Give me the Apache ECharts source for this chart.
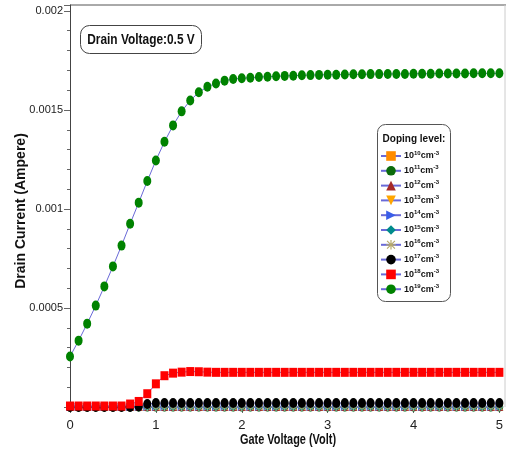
<!DOCTYPE html>
<html>
<head>
<meta charset="utf-8">
<script src="https://cdn.jsdelivr.net/npm/echarts@6/dist/echarts.min.js"></script>
<style>
  html, body { margin: 0; padding: 0; background: #fff; }
  #chart { width: 506px; height: 455px; }
</style>
</head>
<body>
<div id="chart"></div>
<script>
// Gate voltage sweep (V)
const gateVoltage = [0,0.1,0.2,0.3,0.4,0.5,0.6,0.7,0.8,0.9,1.0,1.1,1.2,1.3,1.4,1.5,1.6,1.7,1.8,1.9,2.0,
  2.1,2.2,2.3,2.4,2.5,2.6,2.7,2.8,2.9,3.0,3.1,3.2,3.3,3.4,3.5,3.6,3.7,3.8,3.9,4.0,
  4.1,4.2,4.3,4.4,4.5,4.6,4.7,4.8,4.9,5.0];

// Drain current (A) for each doping level
const id1e10 = [0,0,0,0,0,0,0,0,0,0,0,0,0,0,0,0,0,0,0,0,0,0,0,0,0,0,0,0,0,0,0,0,0,0,0,0,0,0,0,0,0,0,0,0,0,0,0,0,0,0,0];
const id1e11 = [0,0,0,0,0,0,0,0,0,0,0,0,0,0,0,0,0,0,0,0,0,0,0,0,0,0,0,0,0,0,0,0,0,0,0,0,0,0,0,0,0,0,0,0,0,0,0,0,0,0,0];
const id1e12 = [0,0,0,0,0,0,0,0,0,0,0,0,0,0,0,0,0,0,0,0,0,0,0,0,0,0,0,0,0,0,0,0,0,0,0,0,0,0,0,0,0,0,0,0,0,0,0,0,0,0,0];
const id1e13 = [0,0,0,0,0,0,0,0,0,0,0,0,0,0,0,0,0,0,0,0,0,0,0,0,0,0,0,0,0,0,0,0,0,0,0,0,0,0,0,0,0,0,0,0,0,0,0,0,0,0,0];
const id1e14 = [0,0,0,0,0,0,0,0,0,0,0,0,0,0,0,0,0,0,0,0,0,0,0,0,0,0,0,0,0,0,0,0,0,0,0,0,0,0,0,0,0,0,0,0,0,0,0,0,0,0,0];
const id1e15 = [0,0,0,0,0,0,0,0,0,0,0,0,0,0,0,0,0,0,0,0,0,0,0,0,0,0,0,0,0,0,0,0,0,0,0,0,0,0,0,0,0,0,0,0,0,0,0,0,0,0,0];
const id1e16 = [0,0,0,0,0,0,0,0,0,0,0,0,0,0,0,0,0,0,0,0,0,0,0,0,0,0,0,0,0,0,0,0,0,0,0,0,0,0,0,0,0,0,0,0,0,0,0,0,0,0,0];
const id1e17 = [0,0,0,0,0,0,0,0,0.0000025,0.000015,0.00002,0.00002,0.00002,0.00002,0.00002,0.00002,0.00002,0.00002,0.00002,0.00002,0.00002,
  0.00002,0.00002,0.00002,0.00002,0.00002,0.00002,0.00002,0.00002,0.00002,0.00002,0.00002,0.00002,0.00002,0.00002,0.00002,0.00002,0.00002,0.00002,0.00002,0.00002,
  0.00002,0.00002,0.00002,0.00002,0.00002,0.00002,0.00002,0.00002,0.00002,0.00002];
const id1e18 = [0.000005,0.000005,0.000005,0.000005,0.000005,0.000005,0.000005,0.000015,0.000028,0.000067,0.000117,0.000158,0.000171,0.000176,0.000179,0.000178,0.000176,0.000175,0.000175,0.000175,0.000175,
  0.000175,0.000175,0.000175,0.000175,0.000175,0.000175,0.000175,0.000175,0.000175,0.000175,0.000175,0.000175,0.000175,0.000175,0.000175,0.000175,0.000175,0.000175,0.000175,0.000175,
  0.000175,0.000175,0.000175,0.000175,0.000175,0.000175,0.000175,0.000175,0.000175,0.000175];
const id1e19 = [0.000255,0.000335,0.000421,0.000512,0.000609,0.000710,0.000815,0.000925,0.001032,0.001141,0.001245,0.001339,0.001422,0.001493,0.001548,0.001589,0.001617,0.001634,0.001648,0.001656,0.001660,
  0.001663,0.001666,0.001668,0.001670,0.001672,0.001673,0.001675,0.001676,0.001677,0.001678,0.001678,0.001679,0.001680,0.001680,0.001681,0.001681,0.001682,0.001682,0.001682,0.001683,
  0.001683,0.001683,0.001684,0.001684,0.001684,0.001684,0.001685,0.001685,0.001685,0.001685];

// Doping exponents (cm^-3) in drawing order
const dopingExp = ['10','11','12','13','14','15','16','17','18','19'];
const currents = [id1e10, id1e11, id1e12, id1e13, id1e14, id1e15, id1e16, id1e17, id1e18, id1e19];

const asteriskPath = 'path://M4.4,0h1.2v10h-1.2z M0,4.4h10v1.2h-10z M1.3,0.5L9.5,8.7L8.7,9.5L0.5,1.3z M8.7,0.5L9.5,1.3L1.3,9.5L0.5,8.7z';

const markerStyles = [
  { symbol: 'rect',      color: '#ff8c00', size: [7, 8],  rotate: 0 },
  { symbol: 'circle',    color: '#0b6b0b', size: [7, 9],  rotate: 0 },
  { symbol: 'triangle',  color: '#a52a2a', size: [8, 8],  rotate: 0 },
  { symbol: 'triangle',  color: '#ffa500', size: [8, 8],  rotate: 180 },
  { symbol: 'triangle',  color: '#3a5ee8', size: [8, 8],  rotate: -90 },
  { symbol: 'diamond',   color: '#008b8b', size: [8, 9],  rotate: 0 },
  { symbol: asteriskPath,color: '#b5a869', size: [8, 8],  rotate: 0 },
  { symbol: 'circle',    color: '#000000', size: [8, 10], rotate: 0 },
  { symbol: 'rect',      color: '#ff0000', size: [8, 9],  rotate: 0 },
  { symbol: 'circle',    color: '#008200', size: [8, 10], rotate: 0 }
];

const lineColor = '#6a6ad8';
const sans = "'Liberation Sans', Arial, sans-serif";

const series = dopingExp.map((e, i) => ({
  name: '1e' + e,
  type: 'line',
  data: gateVoltage.map((v, k) => [v, currents[i][k]]),
  symbol: markerStyles[i].symbol,
  symbolSize: markerStyles[i].size,
  symbolRotate: markerStyles[i].rotate,
  showAllSymbol: true,
  animation: false,
  lineStyle: { color: lineColor, width: 1 },
  itemStyle: { color: markerStyles[i].color, borderWidth: 0 },
  emphasis: { disabled: true },
  z: 2 + i
}));

const chart = echarts.init(document.getElementById('chart'), null, { renderer: 'canvas' });
chart.setOption({
  backgroundColor: '#fff',
  animation: false,
  grid: { left: 70, right: 3, top: 5, bottom: 48, containLabel: false },
  xAxis: {
    type: 'value', min: 0, max: 5, interval: 1,
    axisLine: { show: true, lineStyle: { color: '#444', width: 1 } },
    axisTick: { show: true, length: 6, lineStyle: { color: '#666' } },
    minorTick: { show: true, splitNumber: 5, length: 3, lineStyle: { color: '#666' } },
    splitLine: { show: false },
    axisLabel: { color: '#222', fontFamily: sans, fontSize: 13, margin: 12 }
  },
  yAxis: {
    type: 'value', min: 0, max: 0.00203, interval: 0.0005,
    axisLine: { show: true, lineStyle: { color: '#444', width: 1 } },
    axisTick: { show: true, length: 6, lineStyle: { color: '#666' } },
    minorTick: { show: true, splitNumber: 5, length: 3, lineStyle: { color: '#666' } },
    splitLine: { show: false },
    axisLabel: {
      color: '#222', fontFamily: sans, fontSize: 11, margin: 7,
      showMinLabel: false, showMaxLabel: false,
      formatter: v => String(+v.toFixed(6))
    }
  },
  legend: {
    orient: 'vertical',
    left: 380, top: 150,
    padding: 0,
    itemWidth: 20, itemHeight: 12, itemGap: 4.0,
    selectedMode: false,
    formatter: name => '{b|10}{s|' + name.slice(2) + '}{b|cm}{s|-3}',
    textStyle: {
      padding: [0, 0, 0, -2],
      rich: {
        b: { fontFamily: sans, fontWeight: 'bold', fontSize: 9, color: '#111', lineHeight: 12, verticalAlign: 'middle' },
        s: { fontFamily: sans, fontWeight: 'bold', fontSize: 6, color: '#111', lineHeight: 12, verticalAlign: 'top' }
      }
    },
    data: series.map(s => s.name)
  },
  graphic: [
    // frame lines on top and right
    { type: 'line', shape: { x1: 70, y1: 5, x2: 506, y2: 5 }, style: { stroke: '#555', lineWidth: 1 }, silent: true },
    { type: 'line', shape: { x1: 505, y1: 5, x2: 505, y2: 407 }, style: { stroke: '#ccc', lineWidth: 1 }, silent: true },
    // drain voltage note
    { type: 'rect', shape: { x: 80.5, y: 25.5, width: 121, height: 28, r: 9 }, style: { fill: '#fff', stroke: '#444', lineWidth: 1 }, z: 10 },
    { type: 'text', x: 141, y: 40, z: 11, scaleX: 0.85,
      style: { text: 'Drain Voltage:0.5 V', font: 'bold 14px ' + sans, fill: '#111', align: 'center', verticalAlign: 'middle' } },
    // legend frame and heading
    { type: 'rect', shape: { x: 377.5, y: 124.5, width: 73, height: 177, r: 8 }, style: { fill: 'rgba(255,255,255,0)', stroke: '#555', lineWidth: 1 }, z: 10 },
    { type: 'text', x: 414, y: 139, z: 11,
      style: { text: 'Doping level:', font: 'bold 10px ' + sans, fill: '#111', align: 'center', verticalAlign: 'middle' } },
    // axis titles
    { type: 'text', x: 288, y: 440, z: 11, scaleX: 0.78,
      style: { text: 'Gate Voltage (Volt)', font: 'bold 14px ' + sans, fill: '#111', align: 'center', verticalAlign: 'middle' } },
    { type: 'text', x: 21, y: 211, rotation: Math.PI / 2, z: 11,
      style: { text: 'Drain Current (Ampere)', font: 'bold 14px ' + sans, fill: '#111', align: 'center', verticalAlign: 'middle' } }
  ],
  series: series
});
</script>
</body>
</html>
